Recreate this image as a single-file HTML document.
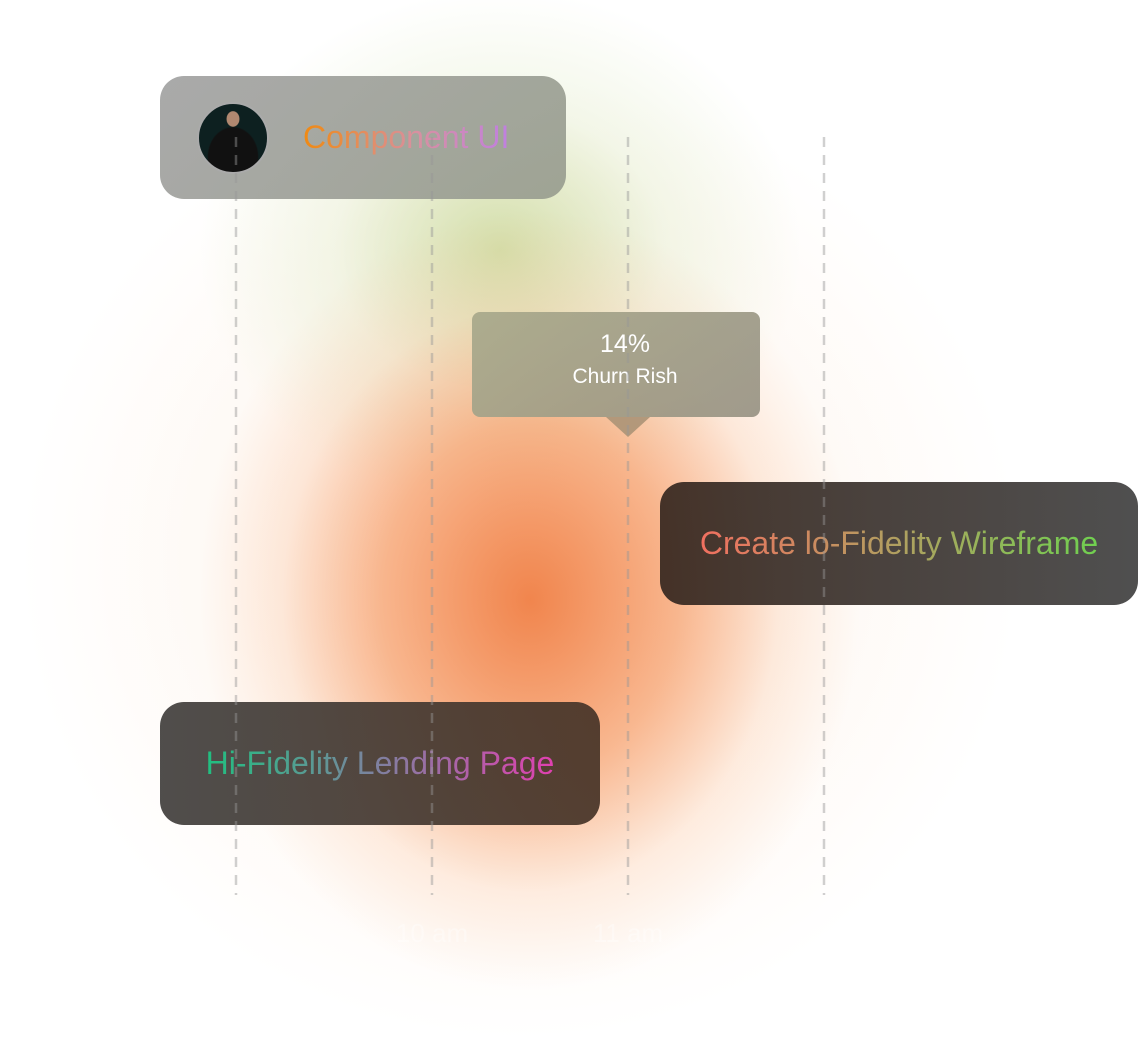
<!DOCTYPE html>
<html><head><meta charset="utf-8"><style>
body{margin:0;width:1138px;height:1062px;overflow:hidden;background:#fff;font-family:"Liberation Sans",sans-serif;position:relative}
.blob{position:absolute;left:0;top:0;width:1138px;height:1062px;
background:
radial-gradient(ellipse 330px 390px at 530px 600px,rgba(240,128,70,0.95),rgba(245,145,85,0.6) 45%,rgba(250,185,140,0.22) 75%,rgba(255,255,255,0) 100%),
radial-gradient(ellipse 300px 260px at 500px 250px,rgba(200,215,150,0.8),rgba(225,235,200,0.4) 55%,rgba(255,255,255,0) 100%),
radial-gradient(ellipse 500px 480px at 520px 560px,rgba(250,200,170,0.55),rgba(253,235,220,0.3) 60%,rgba(255,255,255,0) 100%);}
.card{position:absolute;border-radius:24px;display:flex;align-items:center;justify-content:center}
.gt{font-size:32px;-webkit-background-clip:text;background-clip:text;color:transparent;white-space:nowrap}
.tick{position:absolute;top:918px;font-size:26px;color:rgba(255,255,255,0.35);transform:translateX(-50%)}
</style></head><body>
<div class="blob"></div>
<div class="card" style="left:160px;top:76px;width:406px;height:123px;background:linear-gradient(135deg,rgba(165,165,165,0.95),rgba(155,160,145,0.95));justify-content:flex-start">
 <div style="margin-left:37px;width:68px;height:68px;border-radius:50%;border:2px solid #aaa;background:radial-gradient(ellipse 10% 12% at 50% 22%,#b08870 0 90%,transparent 100%),radial-gradient(ellipse 38% 45% at 50% 78%,#111 0 95%,transparent 100%),#0d2020;"></div>
 <span class="gt" style="margin-left:34px;background-image:linear-gradient(90deg,#f08a12,#d890a0 55%,#c080e0)">Component UI</span>
</div>
<div style="position:absolute;left:472px;top:312px;width:288px;height:105px;border-radius:8px;background:linear-gradient(135deg,rgba(170,170,140,0.95),rgba(150,145,130,0.9));color:#fff;text-align:center">
 <div style="font-size:25px;margin-top:18px;margin-left:18px">14%</div>
 <div style="font-size:21px;margin-top:6px;margin-left:18px">Churn Rish</div>
</div>
<div style="position:absolute;left:606px;top:417px;width:0;height:0;border-left:22px solid transparent;border-right:22px solid transparent;border-top:20px solid rgba(175,150,120,0.95)"></div>
<div class="card" style="left:660px;top:482px;width:478px;height:123px;background:linear-gradient(90deg,rgba(55,40,32,0.93),rgba(70,70,70,0.95))">
 <span class="gt" style="background-image:linear-gradient(90deg,#f07060,#b0a060 50%,#70d050)">Create lo-Fidelity Wireframe</span>
</div>
<div class="card" style="left:160px;top:702px;width:440px;height:123px;background:linear-gradient(90deg,rgba(70,68,66,0.95),rgba(75,55,42,0.95))">
 <span class="gt" style="background-image:linear-gradient(90deg,#20c080,#8080a0 50%,#e040b0)">Hi-Fidelity Lending Page</span>
</div>
<svg width="1138" height="1062" style="position:absolute;left:0;top:0">
 <g stroke="rgba(150,150,150,0.45)" stroke-width="2.5" stroke-dasharray="10,8">
  <line x1="236" y1="137" x2="236" y2="895"/><line x1="432" y1="137" x2="432" y2="895"/>
  <line x1="628" y1="137" x2="628" y2="895"/><line x1="824" y1="137" x2="824" y2="895"/>
 </g>
</svg>
<div class="tick" style="left:236px">9 am</div>
<div class="tick" style="left:432px">10 am</div>
<div class="tick" style="left:628px">11 am</div>
<div class="tick" style="left:824px">12 am</div>
</body></html>
